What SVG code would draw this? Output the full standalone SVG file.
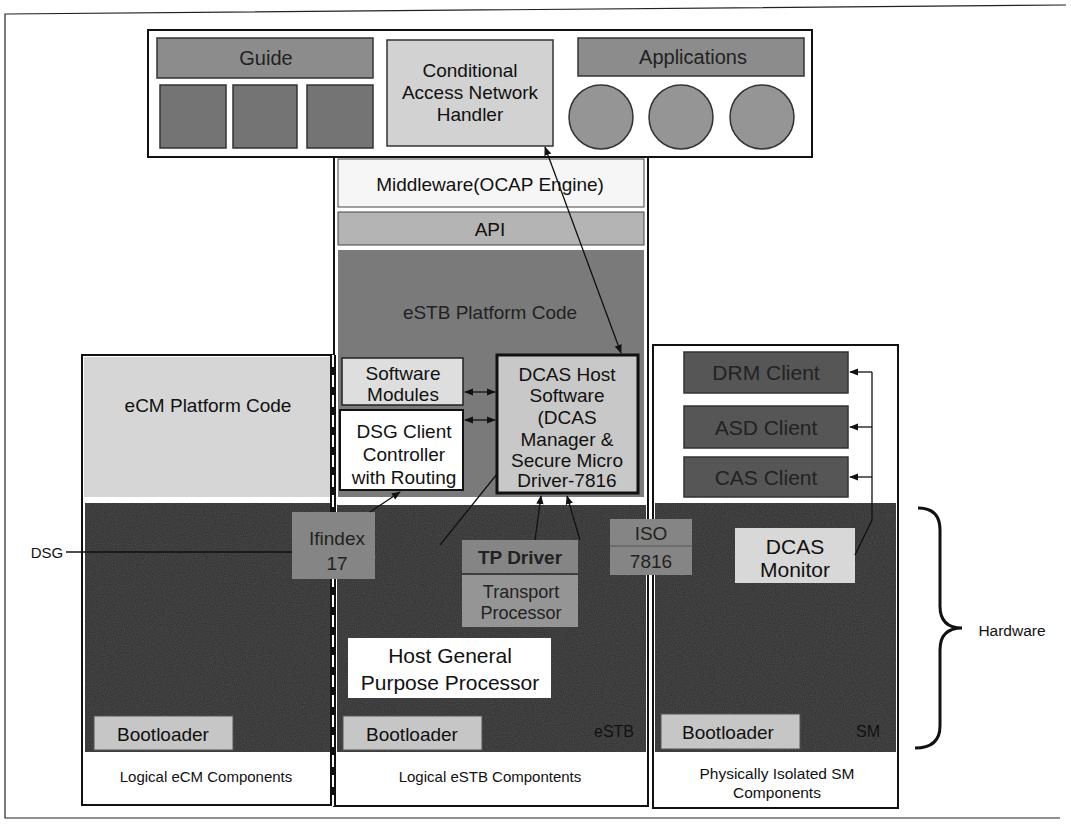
<svg xmlns="http://www.w3.org/2000/svg" width="1071" height="829" viewBox="0 0 1071 829">
<defs>
<style>
text{font-family:"Liberation Sans",Arial,sans-serif;text-anchor:middle;fill:#111}
.b{stroke:#111;stroke-width:2}
.t{stroke:#111;stroke-width:1.3;fill:none}
.dark{fill:#262626}
.boot{fill:#c6c6c6;stroke:#555;stroke-width:1}
.f19{font-size:19px}
.f15{font-size:15px}
.dk{fill:#222}
</style>
<marker id="ah" viewBox="0 0 10 10" refX="9" refY="5" markerWidth="7" markerHeight="7" orient="auto-start-reverse">
<path d="M0,1 L10,5 L0,9 z" fill="#111"/>
</marker>
<filter id="tex" x="0" y="0" width="100%" height="100%">
<feTurbulence type="fractalNoise" baseFrequency="0.9" numOctaves="1" seed="3" result="n"/>
<feColorMatrix in="n" type="matrix" values="0 0 0 0 0.5  0 0 0 0 0.5  0 0 0 0 0.5  0 0 0 0.12 0" result="g"/>
<feComposite in="g" in2="SourceGraphic" operator="atop"/>
</filter>
</defs>
<rect width="1071" height="829" fill="#fff"/>
<path d="M1066,5 L5,14 L5,818 L1060,818" fill="none" stroke="#222" stroke-width="1.2"/>

<g id="apps-layer">
<rect x="148" y="30" width="664" height="127" fill="#fff" class="b"/>
</g>
<g id="guide"><rect x="157" y="38" width="216" height="40" fill="#8c8c8c" stroke="#333" stroke-width="1.5"/><text x="266" y="65" font-size="20" class="dk">Guide</text></g>
<g id="guide-apps">
<rect x="160" y="85" width="66" height="63" fill="#747474" stroke="#333" stroke-width="1.5"/>
<rect x="233" y="85" width="64" height="63" fill="#747474" stroke="#333" stroke-width="1.5"/>
<rect x="307" y="85" width="66" height="63" fill="#747474" stroke="#333" stroke-width="1.5"/>
</g>
<g id="canh"><rect x="387" y="40" width="166" height="106" fill="#d2d2d2" stroke="#333" stroke-width="1.5"/>
<text x="470" y="77" class="f19">Conditional</text><text x="470" y="99" class="f19">Access Network</text><text x="470" y="121" class="f19">Handler</text></g>
<g id="applications"><rect x="578" y="38" width="226" height="38" fill="#8c8c8c" stroke="#333" stroke-width="1.5"/><text x="693" y="64" font-size="20" class="dk">Applications</text></g>
<g id="app-circles">
<circle cx="601" cy="117" r="32" fill="#959595" stroke="#333" stroke-width="1.5"/>
<circle cx="681" cy="117" r="32" fill="#959595" stroke="#333" stroke-width="1.5"/>
<circle cx="762" cy="117" r="32" fill="#959595" stroke="#333" stroke-width="1.5"/>
</g>

<g id="estb-column">
<rect x="334" y="157" width="314" height="649" fill="#fff" class="b"/>
</g>
<g id="middleware"><rect x="338" y="159" width="306" height="48" fill="#f6f6f6" stroke="#444" stroke-width="1"/><text x="490" y="191" class="f19">Middleware(OCAP Engine)</text></g>
<g id="api"><rect x="338" y="212" width="306" height="33" fill="#b4b4b4" stroke="#444" stroke-width="1"/><text x="490" y="236" class="f19">API</text></g>
<g id="estb-platform"><rect x="338" y="250" width="306" height="247" fill="#7a7a7a"/><text x="490" y="319" class="f19 dk">eSTB Platform Code</text></g>

<g id="ecm-column">
<rect x="82" y="355" width="251" height="450" fill="#fff" class="b"/>
</g>
<g id="ecm-platform"><rect x="84" y="357" width="246" height="140" fill="#d6d6d6"/><text x="208" y="412" class="f19">eCM Platform Code</text></g>

<g id="sm-column">
<rect x="653" y="345" width="245" height="463" fill="#fff" class="b"/>
</g>

<g id="hardware">
<rect x="85" y="503" width="246" height="249" class="dark" filter="url(#tex)"/>
<rect x="337" y="505" width="309" height="247" class="dark" filter="url(#tex)"/>
<rect x="655" y="503" width="241" height="249" class="dark" filter="url(#tex)"/>
</g>

<g id="separators">
<line x1="333" y1="355" x2="333" y2="806" stroke="#111" stroke-width="6"/>
<line x1="333" y1="355" x2="333" y2="806" stroke="#fff" stroke-width="2" stroke-dasharray="12,8"/>
<line x1="648" y1="157" x2="648" y2="806" stroke="#111" stroke-width="2"/>
<line x1="650.5" y1="345" x2="650.5" y2="806" stroke="#fff" stroke-width="3"/>
<line x1="653" y1="345" x2="653" y2="808" stroke="#111" stroke-width="2"/>
</g>

<g id="software-modules"><rect x="342" y="358" width="121" height="47" fill="#dedede" stroke="#222" stroke-width="1.5"/><text x="403" y="380" class="f19">Software</text><text x="403" y="401" class="f19">Modules</text></g>
<g id="dsg-client"><rect x="340" y="410" width="123" height="80" fill="#fff" stroke="#111" stroke-width="2"/><text x="404" y="438" class="f19">DSG Client</text><text x="404" y="461" class="f19">Controller</text><text x="404" y="484" class="f19">with Routing</text></g>
<g id="dcas-host"><rect x="497" y="355" width="141" height="138" fill="#c8c8c8" stroke="#111" stroke-width="3"/>
<text x="567" y="381" class="f19">DCAS Host</text><text x="567" y="402" class="f19">Software</text><text x="567" y="424" class="f19">(DCAS</text><text x="567" y="446" class="f19">Manager &amp;</text><text x="567" y="467" class="f19">Secure Micro</text><text x="567" y="487" class="f19">Driver-7816</text></g>

<g id="drm-client"><rect x="684" y="352" width="164" height="41" fill="#565656" stroke="#333" stroke-width="1.5"/><text x="766" y="380" font-size="21" class="dk">DRM Client</text></g>
<g id="asd-client"><rect x="684" y="406" width="164" height="42" fill="#565656" stroke="#333" stroke-width="1.5"/><text x="766" y="435" font-size="21" class="dk">ASD Client</text></g>
<g id="cas-client"><rect x="684" y="457" width="164" height="40" fill="#565656" stroke="#333" stroke-width="1.5"/><text x="766" y="485" font-size="21" class="dk">CAS Client</text></g>

<g id="ifindex"><rect x="292" y="512" width="83" height="67" fill="#858585"/><text x="337" y="545" class="f19 dk">Ifindex</text><text x="337" y="570" class="f19 dk">17</text></g>
<g id="tp-driver"><rect x="462" y="540" width="116" height="33" fill="#858585"/><text x="520" y="564" font-size="19" font-weight="bold" class="dk">TP Driver</text></g>
<g id="transport-processor"><rect x="462" y="575" width="116" height="52" fill="#959595"/><text x="521" y="598" font-size="18" class="dk">Transport</text><text x="521" y="619" font-size="18" class="dk">Processor</text></g>
<g id="iso7816"><rect x="610" y="519" width="82" height="56" fill="#858585"/><line x1="610" y1="546" x2="692" y2="546" stroke="#555"/><text x="651" y="540" class="f19 dk">ISO</text><text x="651" y="568" class="f19 dk">7816</text></g>
<g id="dcas-monitor"><rect x="735" y="528" width="120" height="55" fill="#d8d8d8"/><text x="795" y="554" font-size="21">DCAS</text><text x="795" y="577" font-size="21">Monitor</text></g>
<g id="host-gpp"><rect x="348" y="638" width="203" height="60" fill="#fff"/><text x="450" y="663" font-size="21">Host General</text><text x="450" y="690" font-size="21">Purpose Processor</text></g>

<g id="boot-ecm"><rect x="94" y="716" width="139" height="34" class="boot"/><text x="163" y="741" class="f19">Bootloader</text></g>
<g id="boot-estb"><rect x="343" y="716" width="139" height="34" class="boot"/><text x="412" y="741" class="f19">Bootloader</text></g>
<g id="boot-sm"><rect x="661" y="714" width="139" height="35" class="boot"/><text x="728" y="739" class="f19">Bootloader</text></g>
<text x="614" y="737" font-size="16" fill="#444">eSTB</text>
<text x="868" y="737" font-size="16" fill="#444">SM</text>

<g id="labels">
<text x="206" y="782" class="f15">Logical eCM Components</text>
<text x="490" y="782" class="f15">Logical eSTB Compontents</text>
<text x="777" y="779" font-size="15.5">Physically Isolated SM</text>
<text x="777" y="798" font-size="15.5">Components</text>
<text x="47" y="558" class="f15">DSG</text>
<text x="1012" y="636" font-size="15.5">Hardware</text>
</g>

<g id="connectors">
<line x1="545" y1="147" x2="621" y2="353" class="t" marker-start="url(#ah)" marker-end="url(#ah)"/>
<line x1="465" y1="392" x2="495" y2="392" class="t" marker-start="url(#ah)" marker-end="url(#ah)"/>
<line x1="465" y1="420" x2="495" y2="420" class="t" marker-start="url(#ah)" marker-end="url(#ah)"/>
<line x1="370" y1="512" x2="400" y2="492" class="t" marker-end="url(#ah)"/>
<line x1="440" y1="545" x2="497" y2="474" class="t"/>
<line x1="535" y1="540" x2="541" y2="496" class="t" marker-end="url(#ah)"/>
<line x1="580" y1="540" x2="567" y2="496" class="t" marker-end="url(#ah)"/>
<line x1="66" y1="552" x2="292" y2="552" class="t"/>
<polyline points="872,372 872,520 855,555" class="t"/>
<line x1="872" y1="372" x2="850" y2="372" class="t" marker-end="url(#ah)"/>
<line x1="872" y1="427" x2="850" y2="427" class="t" marker-end="url(#ah)"/>
<line x1="872" y1="477" x2="850" y2="477" class="t" marker-end="url(#ah)"/>
<path d="M918,508 Q940,508 940,530 L940,606 Q940,628 962,628 Q940,628 940,650 L940,726 Q940,748 915,748" fill="none" stroke="#111" stroke-width="3"/>
</g>
</svg>
